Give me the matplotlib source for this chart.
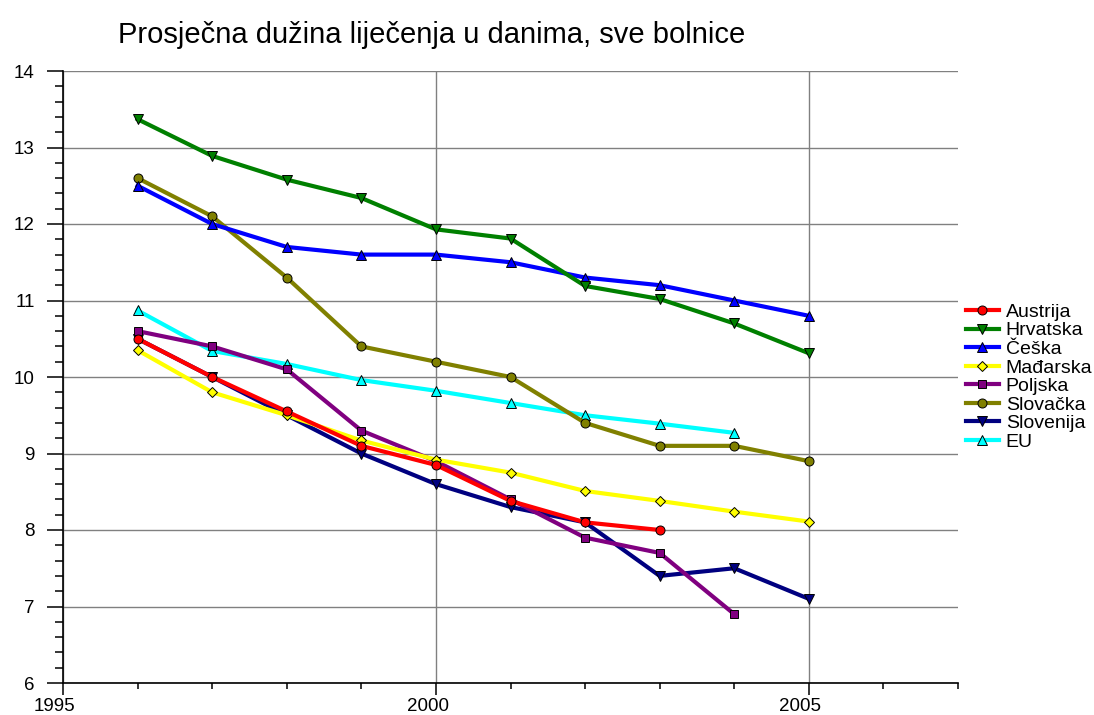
import numpy as np
import matplotlib
matplotlib.use('Agg')
import matplotlib.pyplot as plt
import matplotlib.transforms as mtransforms
from matplotlib.ticker import MultipleLocator

plt.rcParams['font.family'] = ['Liberation Sans', 'DejaVu Sans']

years = [1996, 1997, 1998, 1999, 2000, 2001, 2002, 2003, 2004, 2005]

names = ['Austrija', 'Hrvatska', 'Češka', 'Mađarska', 'Poljska', 'Slovačka', 'Slovenija', 'EU']
austrija = [10.5, 10.0, 9.55, 9.1, 8.85, 8.38, 8.1, 8.0]
hrvatska = [13.37, 12.89, 12.58, 12.34, 11.93, 11.81, 11.19, 11.02, 10.7, 10.31]
ceska = [12.5, 12.0, 11.7, 11.6, 11.6, 11.5, 11.3, 11.2, 11.0, 10.8]
madarska = [10.35, 9.8, 9.5, 9.17, 8.92, 8.75, 8.51, 8.38, 8.24, 8.11]
poljska = [10.6, 10.4, 10.1, 9.3, 8.9, 8.4, 7.9, 7.7, 6.9]
slovacka = [12.6, 12.1, 11.3, 10.4, 10.2, 10.0, 9.4, 9.1, 9.1, 8.9]
slovenija = [10.5, 10.0, 9.5, 9.0, 8.6, 8.3, 8.1, 7.4, 7.5, 7.1]
eu = [10.87, 10.34, 10.17, 9.96, 9.82, 9.66, 9.5, 9.39, 9.27]

series = [austrija, hrvatska, ceska, madarska, poljska, slovacka, slovenija, eu]
colors = ['#ff0000', '#008000', '#0000ff', '#ffff00', '#800080', '#808000', '#000080', '#00ffff']
markers = ['o', 'v', '^', 'D', 's', 'o', 'v', '^']
msizes = [6.5, 7, 7, 5, 6, 6.5, 7, 7]

fig = plt.figure(figsize=(10.94, 7.15), dpi=100)
ax = fig.add_axes([63/1094, 1-683/715, (958-63)/1094, (683-71)/715])

n = len(series)
for i, (name, vals) in enumerate(zip(names, series)):
    ax.plot(years[:len(vals)], vals, color=colors[i], lw=3, marker=markers[i],
            ms=msizes[i], mfc=colors[i], mec='black', mew=0.7,
            label=name, zorder=10 + n - i, clip_on=False)

ax.set_xlim(1995, 2007)
ax.set_ylim(6, 14)
ax.xaxis.set_major_locator(MultipleLocator(5))
ax.xaxis.set_minor_locator(MultipleLocator(1))
ax.yaxis.set_major_locator(MultipleLocator(1))
ax.yaxis.set_minor_locator(MultipleLocator(0.2))

ax.grid(True, which='major', color='#808080', lw=1)
ax.set_axisbelow(True)
for s in ['top', 'right']:
    ax.spines[s].set_visible(False)
for s in ['left', 'bottom']:
    ax.spines[s].set_linewidth(1.2)

ax.tick_params(axis='x', which='major', length=8.6, width=1.1, pad=2, labelsize=13.5)
ax.tick_params(axis='x', which='minor', length=4.3, width=1.1)
ax.tick_params(axis='y', which='major', length=11.5, width=1.1, pad=9, labelsize=13.5)
ax.tick_params(axis='y', which='minor', length=5.8, width=1.1)

# x labels sit a little left of their ticks in the original
shift = mtransforms.ScaledTranslation(-6/72, 0, fig.dpi_scale_trans)
for lab in ax.get_xticklabels():
    lab.set_transform(lab.get_transform() + shift)

leg = ax.legend(loc='center left', bbox_to_anchor=(1.0, 0.5), frameon=False,
                fontsize=14, labelspacing=0.05, handlelength=1.7, handletextpad=0.35,
                borderaxespad=0.4, borderpad=0)

fig.text(432/1094, 1-35/715, 'Prosječna dužina liječenja u danima, sve bolnice',
         ha='center', va='center', fontsize=21)

fig.savefig('out.png', dpi=100)
